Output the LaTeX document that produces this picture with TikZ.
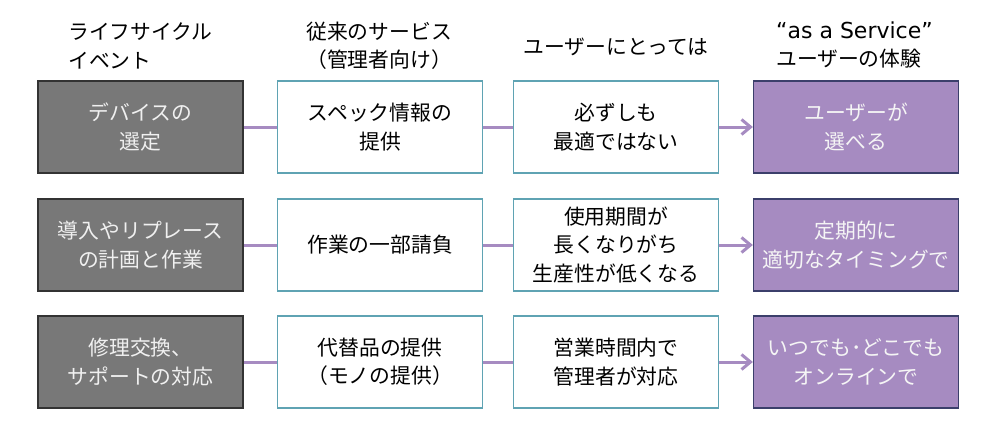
\documentclass[tikz,border=0pt]{standalone}
\usepackage{fontspec}
\setmainfont{Noto Sans CJK JP}
\newfontfamily\latinfont{DejaVu Sans}
\usetikzlibrary{arrows.meta}
\pgfdeclarelayer{edgelayer}
\pgfdeclarelayer{nodelayer}
\pgfsetlayers{edgelayer,nodelayer,main}
\definecolor{evgray}{HTML}{787878}
\definecolor{evpurple}{HTML}{A68BC1}
\definecolor{evteal}{HTML}{5FA3B3}
\definecolor{evnavy}{HTML}{3B3F6B}
\tikzset{font=\fontsize{20.8}{28.5}\selectfont}
\tikzstyle{head}=[inner sep=0pt,align=left,anchor=west]
\tikzstyle{event}=[draw=black!80,fill=evgray,text=white!94!black,line width=1.3pt,minimum width=205pt,minimum height=92pt,align=center,inner sep=0pt]
\tikzstyle{plain}=[draw=evteal,fill=white,line width=1.3pt,minimum width=205pt,minimum height=92pt,align=center,inner sep=0pt]
\tikzstyle{svc}=[draw=evnavy,fill=evpurple,text=white!96!black,line width=1.3pt,minimum width=205pt,minimum height=92pt,align=center,inner sep=0pt]
\tikzstyle{link}=[draw=evpurple,line width=3pt]
\tikzstyle{arr}=[draw=evpurple,line width=3pt,-{Straight Barb[length=9pt,width=15pt,line width=3pt]}]

\begin{document}
\begin{tikzpicture}[x=1pt,y=-1pt]
	\useasboundingbox (0,0) rectangle (1000,432);
	\begin{pgfonlayer}{nodelayer}
		\node [style=head] (h0) at (68, 46) {ライフサイクル\\イベント};
		\node [style=head] (h1) at (306, 46) {従来のサービス\\（管理者向け）};
		\node [style=head,anchor=center] (h2) at (616, 47) {ユーザーにとっては};
		\node [style=head] (h3) at (776, 45) {{\latinfont\fontsize{22}{28.5}\selectfont “as a Service”}\\ユーザーの体験};
		\node [style=event] (0) at (140.5, 127) {デバイスの\\選定};
		\node [style=plain] (1) at (380, 127) {スペック情報の\\提供};
		\node [style=plain] (2) at (616, 127) {必ずしも\\最適ではない};
		\node [style=svc] (3) at (856, 127) {ユーザーが\\選べる};
		\node [style=event] (4) at (140.5, 245) {導入やリプレース\\の計画と作業};
		\node [style=plain] (5) at (380, 245) {作業の一部請負};
		\node [style=plain] (6) at (616, 245) {使用期間が\\長くなりがち\\生産性が低くなる};
		\node [style=svc] (7) at (856, 245) {定期的に\\適切なタイミングで};
		\node [style=event] (8) at (140.5, 362) {修理交換、\\サポートの対応};
		\node [style=plain] (9) at (380, 362) {代替品の提供\\（モノの提供）};
		\node [style=plain] (10) at (616, 362) {営業時間内で\\管理者が対応};
		\node [style=svc] (11) at (856, 362) {いつでも･どこでも\\オンラインで};
	\end{pgfonlayer}
	\begin{pgfonlayer}{edgelayer}
		\draw[style=link] (0) to (1);
		\draw[style=link] (1) to (2);
		\draw[style=arr] (2) to (3);
		\draw[style=link] (4) to (5);
		\draw[style=link] (5) to (6);
		\draw[style=arr] (6) to (7);
		\draw[style=link] (8) to (9);
		\draw[style=link] (9) to (10);
		\draw[style=arr] (10) to (11);
	\end{pgfonlayer}
\end{tikzpicture}
\end{document}
